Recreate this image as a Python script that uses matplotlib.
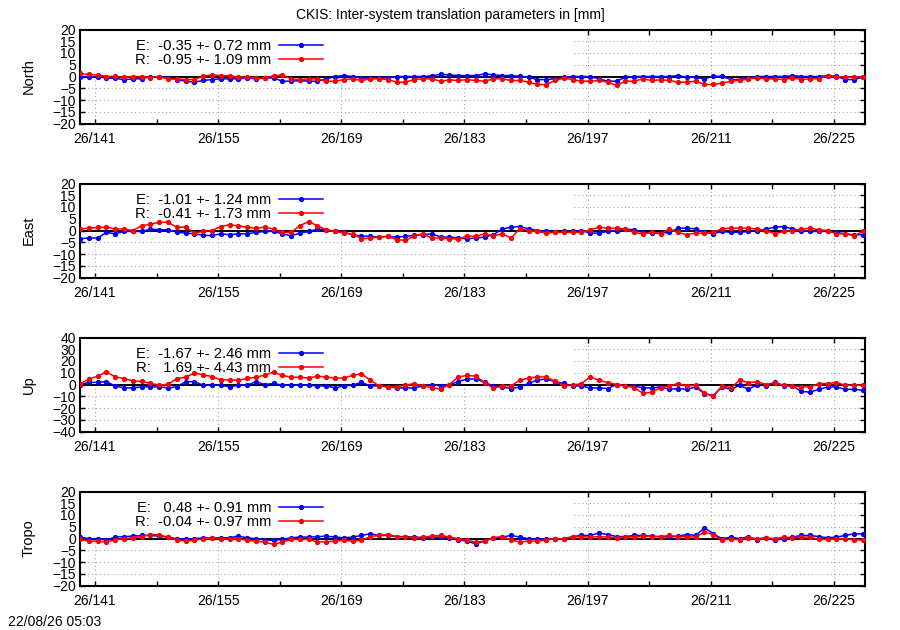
import numpy as np
import matplotlib
matplotlib.use('Agg')
import matplotlib.pyplot as plt
from matplotlib.patches import Rectangle

plt.rcParams['font.family'] = ['Liberation Sans', 'DejaVu Sans']
plt.rcParams['font.size'] = 10

# day of year (2026), one solution per day
doy = 139.3 + np.arange(90)

north_e = [0, 0, 0, -0.7, -0.7, -1.4, -1.0, -1.0, 0, -0.3,
           -0.6, -1.3, -2.0, -2.4, -1.7, -1.3, -1.0, -1.0, -1.0, -0.6,
           -1.0, -0.6, -0.6, -2.0, -2.0, -1.7, -2.0, -2.0, -1.0, 0,
           0.4, 0, -0.7, -0.6, -0.6, -0.6, 0, 0, 0, 0,
           0.3, 0.9, 0.7, 0.4, 0.4, 0.4, 1.1, 0.7, 0.4, 0.4,
           0.1, -0.3, -1.3, -1.3, -1.0, -0.3, 0, 0, 0, -1.0,
           -2.0, -2.0, -0.3, 0, 0, 0, 0, 0, 0.4, -0.3,
           -0.3, -1.0, 0.1, 0.1, -1.3, -1.3, -0.6, 0, 0, 0,
           0, 0.4, 0, 0, 0, 0.4, 0.1, -1.3, -1.3, -0.3]
north_r = [1.3, 0.9, 0.7, 0, 0.1, -0.3, 0, 0, -0.5, 0,
           -1.0, -1.0, -1.3, -1.3, 0.1, 0.7, 0.4, 0.3, -0.3, -0.3,
           -0.7, -0.6, 0.3, 0.7, -1.0, -1.3, -1.0, -1.0, -2.0, -2.0,
           -1.3, -1.0, -1.7, -1.0, -1.0, -1.3, -2.4, -2.4, -1.3, -1.0,
           -1.0, -2.0, -1.4, -1.7, -1.3, -1.7, -2.0, -1.0, -1.0, -1.7,
           -1.7, -2.4, -3.4, -3.5, -1.7, -0.7, -1.3, -2.0, -2.0, -1.7,
           -2.4, -3.8, -2.0, -2.0, -1.0, -1.7, -1.4, -1.7, -2.4, -2.4,
           -2.0, -3.4, -3.4, -2.8, -2.0, -1.7, -1.0, -0.6, -1.0, -1.0,
           -1.3, -0.6, -1.3, -1.0, -1.0, 0.4, 0, -0.3, -0.3, 0]

east_e = [-3.5, -3.2, -3.2, -0.8, -1.4, -0.4, -0.4, -0.4, 0.6, 0.3,
          0.3, -0.7, -1.1, -1.4, -2.1, -2.1, -1.4, -1.8, -1.4, -1.4,
          -0.8, -0.4, -0.4, -1.4, -2.3, -1.1, -0.4, 0.6, 0.3, -0.4,
          -0.8, -1.8, -2.3, -2.5, -2.8, -2.5, -2.8, -2.5, -2.1, -1.8,
          -1.4, -2.8, -2.8, -3.2, -3.5, -3.2, -2.8, -1.8, 0.6, 1.4,
          1.7, 0.7, 0, -0.4, -0.8, -0.4, -0.4, 0, -1.1, -1.1,
          -0.4, 0, 0.6, 0.3, -0.8, -1.1, -1.1, -0.8, 1.0, 1.0,
          0.7, -0.8, -1.4, -0.4, -0.8, -0.8, -0.4, 0, 0.6, 1.4,
          1.7, 0.7, 0, -0.4, -0.4, -0.4, -0.8, -1.4, -1.8, -1.8]
east_r = [0.7, 1.0, 1.3, 1.4, 0.7, 0.6, 0, 2.0, 2.7, 3.5,
          3.5, 1.4, 1.4, -1.1, -0.4, 0, 1.7, 2.4, 2.0, 1.4,
          1.0, 1.4, 0.6, -0.8, -0.8, 2.1, 3.8, 2.0, 0.3, -0.4,
          -1.1, -1.4, -3.5, -3.2, -2.8, -2.5, -3.9, -4.2, -2.3, -1.4,
          -3.2, -3.2, -3.5, -3.7, -2.3, -2.5, -1.4, -2.3, -1.4, -3.2,
          0.7, 0, -0.4, -1.1, -0.8, -0.8, -0.8, -0.8, 0.3, 1.4,
          1.0, 1.0, 0.6, -0.8, -1.4, -0.8, -1.4, 0.6, -0.8, -1.8,
          -1.1, -1.1, -0.8, 0.7, 1.0, 1.0, 1.0, 0.6, 0, -1.4,
          -0.4, 0, 0.6, 1.0, 0.3, 0, -1.4, -1.4, -2.3, -0.4]

up_e = [0, 1.8, 1.8, 2.4, -1.2, -2.9, -2.9, -2.0, -2.0, -2.0,
        -2.9, -2.0, 2.4, 2.4, -0.6, -0.6, -0.6, -2.0, -0.6, -0.6,
        2.4, 0, 0.9, -0.6, -0.6, -0.6, -0.6, -1.2, -1.2, -2.9,
        -1.2, -0.6, 1.8, -1.2, -1.2, -2.0, -2.9, -2.9, -2.9, -1.2,
        0, -1.2, 0, 2.4, 4.7, 4.7, 1.8, -1.2, -2.1, -3.5,
        -2.1, 0.9, 3.8, 4.7, 2.4, 0.9, -1.2, -1.2, -2.9, -2.9,
        -3.5, 0, -1.2, -1.2, -2.9, -2.9, -2.1, -4.1, -3.5, -4.1,
        -2.1, -7.9, -9.4, -2.1, -4.1, -0.6, -4.1, 0, -1.2, 1.8,
        -1.2, -1.2, -5.9, -6.5, -4.1, -2.1, -2.1, -4.1, -4.1, -5.0]
up_r = [0.7, 4.5, 7.2, 10.8, 6.6, 5.0, 3.2, 2.6, 1.0, -0.5,
        0.2, 5.0, 6.2, 9.8, 8.2, 6.8, 4.0, 4.0, 3.6, 5.2,
        6.2, 8.0, 10.6, 7.8, 6.2, 6.2, 5.6, 7.0, 6.4, 5.5,
        5.5, 7.8, 9.2, 3.6, -1.1, -1.9, -1.9, -0.6, 0.8, -1.1,
        -2.7, -3.9, 0, 6.4, 7.7, 7.1, 1.7, -3.3, -1.1, -1.1,
        3.6, 5.5, 6.4, 6.4, 2.7, -1.1, -0.6, 0.8, 6.4, 3.6,
        1.7, 0, -1.1, -2.7, -7.4, -6.7, -2.7, -1.1, 0.8, -1.1,
        -0.6, -7.4, -10.2, -1.1, -2.7, 3.6, 1.7, 2.3, 0, 1.7,
        -0.6, -1.1, -2.0, -2.0, 0.8, 0.8, 1.7, -0.6, -0.6, -0.6]

tropo_e = [0.6, -0.1, -0.1, -0.6, 0.6, 0.8, 1.0, 1.3, 1.3, 1.0,
           0.6, -0.1, -0.1, -0.1, 0.3, 0.3, 0.3, 0.3, 1.0, 0.3,
           -0.1, -0.6, -0.8, -0.4, 0.3, 0.6, 0.6, 0.8, 1.0, 0.6,
           0.3, 0.6, 1.3, 2.0, 1.3, 1.3, 0.8, 0.8, 0.6, 0.3,
           0.6, 0.6, 0.3, -0.6, -1.1, -2.3, -1.1, 0.3, 0.6, 1.3,
           0.6, -0.1, -0.4, -0.1, -0.1, -0.1, 0.8, 1.3, 1.3, 2.3,
           1.7, 0.8, 0.8, 1.3, 1.3, 1.0, 0.8, 0.6, 1.0, 1.7,
           1.3, 4.5, 2.0, -0.1, 0.6, -0.1, 0.8, -0.6, 0.3, -0.8,
           -0.1, 0.6, 1.3, 1.3, 0.8, 0.3, 0.6, 1.3, 2.0, 2.0]
tropo_r = [-0.4, -1.1, -1.1, -1.5, -0.6, -0.1, 0.3, 0.8, 1.7, 1.5,
           0.6, -0.6, -1.1, -0.8, -0.1, 0.3, -0.1, -0.1, -0.1, -0.8,
           -1.1, -1.5, -2.5, -1.5, -0.4, -0.4, -0.4, -1.5, -1.4, -1.1,
           -0.8, -1.1, -0.8, 0.8, 1.3, 1.7, 0.8, 0.6, 0.3, 0.6,
           1.0, 1.3, 0.6, -0.1, -0.8, -1.5, -1.1, 0.3, 0.8, -0.6,
           -1.5, -1.1, -1.1, -0.6, -0.1, -0.1, 0.6, 0.8, 0.6, 0.8,
           0.6, 0.3, 0.6, 0.6, 1.0, 0.8, 0.8, 1.3, 0.8, 0.8,
           0.6, 2.7, 1.7, -0.8, -0.1, -0.6, 0.3, -0.1, 0.3, -0.1,
           0.6, 0.3, 0.6, 0.6, -0.4, -0.4, -0.1, -0.1, -0.6, -0.6]

panels = ['North', 'East', 'Up', 'Tropo']
series_e = [north_e, east_e, up_e, tropo_e]
series_r = [north_r, east_r, up_r, tropo_r]
labels_e = ['E:  -0.35 +- 0.72 mm', 'E:  -1.01 +- 1.24 mm',
            'E:  -1.67 +- 2.46 mm', 'E:   0.48 +- 0.91 mm']
labels_r = ['R:  -0.95 +- 1.09 mm', 'R:  -0.41 +- 1.73 mm',
            'R:   1.69 +- 4.43 mm', 'R:  -0.04 +- 0.97 mm']
ylims = [20, 20, 40, 20]
ysteps = [5, 5, 10, 5]

major_days = [141, 155, 169, 183, 197, 211, 225]
minor_days = [148, 162, 176, 190, 204, 218]
xticklabels = ['26/%d' % d for d in major_days]

W, H = 900, 630
fig = plt.figure(figsize=(9, 6.3), dpi=100)

ax_left, ax_w, ax_h = 80, 785, 94
tops = [29.5, 183.5, 337.5, 491.5]

for i, name in enumerate(panels):
    top = tops[i]
    ax = fig.add_axes([ax_left / W, 1 - (top + ax_h) / H, ax_w / W, ax_h / H])
    lim = ylims[i]
    ax.set_xlim(139.3, 228.55)
    ax.set_ylim(-lim, lim)
    ax.set_yticks(np.arange(-lim, lim + 1, ysteps[i]))
    ax.set_xticks(major_days)
    ax.set_xticklabels(xticklabels)
    ax.set_xticks(minor_days, minor=True)

    # gnuplot style grid: dotted, major x ticks and every y tick
    ax.set_axisbelow(True)
    ax.grid(True, which='major', color='#a8a8a8', lw=0.8,
            linestyle=(0, (1, 2.5)))
    # opaque key box covers the grid in the upper left
    ax.add_patch(Rectangle((0, 0.49), 0.628, 0.51, transform=ax.transAxes,
                           facecolor='white', edgecolor='none', zorder=1))
    ax.axhline(0, color='black', lw=1.4, zorder=1.5)

    ax.plot(doy, series_e[i], color='#0000ff', lw=1.1, marker='o',
            markersize=2.8, label=labels_e[i], zorder=3)
    ax.plot(doy, series_r[i], color='#ff0000', lw=1.1, marker='o',
            markersize=2.8, label=labels_r[i], zorder=3)

    ax.tick_params(which='both', direction='in', top=True, right=True,
                   length=3.5, width=1, labelsize=10)
    ax.tick_params(axis='x', pad=6)
    ax.tick_params(axis='y', pad=3)
    for s in ax.spines.values():
        s.set_linewidth(1.5)

    ax.set_ylabel(name, fontsize=10.5)
    ax.yaxis.set_label_coords(-0.056, 0.5)

    leg = ax.legend(loc='upper right', bbox_to_anchor=(0.31, 0.895),
                    markerfirst=False, frameon=False, numpoints=1,
                    handlelength=3.0, handletextpad=0.55, labelspacing=0.0,
                    borderpad=0, borderaxespad=0, fontsize=10.6)
    leg.set_zorder(4)

fig.text(0.5, 1 - 15 / H, 'CKIS: Inter-system translation parameters in [mm]',
         ha='center', va='center', fontsize=10)
fig.text(8 / W, 1 - 622 / H, '22/08/26 05:03', ha='left', va='center',
         fontsize=10)

plt.savefig('out.png', dpi=100)
plt.close()
